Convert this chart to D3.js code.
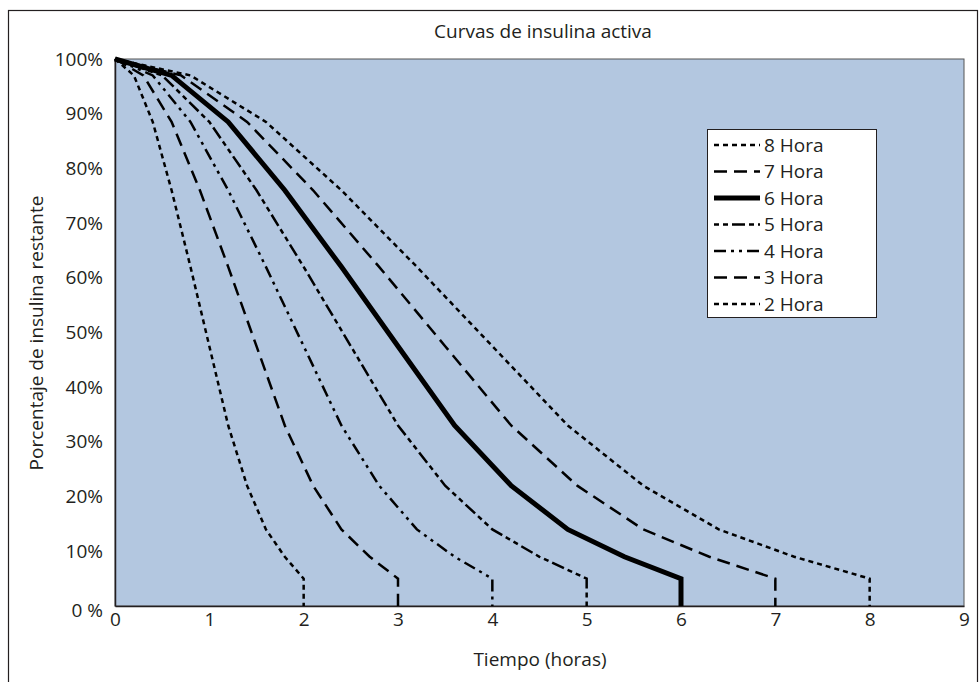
<!DOCTYPE html>
<html>
<head>
<meta charset="utf-8">
<script src="https://cdn.jsdelivr.net/npm/d3@7/dist/d3.min.js"></script>
<style>
  html, body { margin: 0; padding: 0; background: #fff; }
  svg { display: block; }
  text { font-family: "Open Sans", "Noto Sans", sans-serif; fill: #231f20; }
</style>
</head>
<body>
<svg id="chart" width="979" height="682"></svg>
<script>
// ---- Data ----
const title = "Curvas de insulina activa";
const xLabel = "Tiempo (horas)";
const yLabel = "Porcentaje de insulina restante";
const xTicks = [0, 1, 2, 3, 4, 5, 6, 7, 8, 9];
const yTicks = [0, 10, 20, 30, 40, 50, 60, 70, 80, 90, 100];
const yTickLabels = ["0 %", "10%", "20%", "30%", "40%", "50%", "60%", "70%", "80%", "90%", "100%"];

// percent of insulin remaining at each curve vertex (same vertex order for every curve)
const pct = [100, 97, 88.5, 76, 62, 47.5, 33, 22, 14, 9, 5, 0];

const time2 = [0, 0.2, 0.4, 0.6, 0.8, 1.0, 1.2, 1.4, 1.6, 1.8, 2.0, 2.0];
const time3 = [0, 0.3, 0.6, 0.9, 1.2, 1.5, 1.8, 2.1, 2.4, 2.7, 3.0, 3.0];
const time4 = [0, 0.4, 0.8, 1.2, 1.6, 2.0, 2.4, 2.8, 3.2, 3.6, 4.0, 4.0];
const time5 = [0, 0.5, 1.0, 1.5, 2.0, 2.5, 3.0, 3.5, 4.0, 4.5, 5.0, 5.0];
const time6 = [0, 0.6, 1.2, 1.8, 2.4, 3.0, 3.6, 4.2, 4.8, 5.4, 6.0, 6.0];
const time7 = [0, 0.7, 1.4, 2.1, 2.8, 3.5, 4.2, 4.9, 5.6, 6.3, 7.0, 7.0];
const time8 = [0, 0.8, 1.6, 2.4, 3.2, 4.0, 4.8, 5.6, 6.4, 7.2, 8.0, 8.0];

const seriesNames = ["8 Hora", "7 Hora", "6 Hora", "5 Hora", "4 Hora", "3 Hora", "2 Hora"];
const seriesTimes = [time8, time7, time6, time5, time4, time3, time2];

// styles (not data)
const styles = {
  "8 Hora": { w: 2.5, dash: "5,4" },
  "7 Hora": { w: 2.5, dash: "13,7" },
  "6 Hora": { w: 5, dash: null },
  "5 Hora": { w: 2.5, dash: "5,4,5,4,13,4" },
  "4 Hora": { w: 2.5, dash: "12,5,3,5,3,5" },
  "3 Hora": { w: 2.5, dash: "13,7" },
  "2 Hora": { w: 2.5, dash: "5,4" }
};
const FS = "19px";

const svg = d3.select("#chart");

// outer frame
svg.append("rect")
  .attr("x", 8.5).attr("y", 10.5).attr("width", 969).attr("height", 700)
  .attr("fill", "none").attr("stroke", "#231f20").attr("stroke-width", 1.2);

const x = d3.scaleLinear().domain([0, 9]).range([115, 964]);
const y = d3.scaleLinear().domain([0, 100]).range([606, 59]);

// plot background
svg.append("rect")
  .attr("x", x(0)).attr("y", y(100))
  .attr("width", x(9) - x(0)).attr("height", y(0) - y(100))
  .attr("fill", "#b3c7e0").attr("stroke", "#555").attr("stroke-width", 1);

// axes
const xAxis = svg.append("g").attr("transform", `translate(0,${y(0)})`)
  .call(d3.axisBottom(x).tickValues(xTicks).tickSize(0).tickPadding(6).tickFormat(d3.format("d")));
xAxis.select(".domain").attr("stroke", "#231f20").attr("stroke-width", 1.5);
xAxis.selectAll("text").style("font-size", FS).attr("fill", "#231f20");

const yAxis = svg.append("g").attr("transform", `translate(${x(0)},0)`)
  .call(d3.axisLeft(y).tickValues(yTicks).tickSize(0).tickPadding(12)
    .tickFormat((d, i) => yTickLabels[i]));
yAxis.select(".domain").attr("stroke", "#231f20").attr("stroke-width", 1.5);
yAxis.selectAll("text").style("font-size", FS).attr("fill", "#231f20");
yAxis.selectAll(".tick").filter(d => d === 0).select("text").attr("dy", "0.55em");

// curves
const line = d3.line().x(d => x(d.t)).y(d => y(d.p));
seriesNames.forEach((name, si) => {
  const pts = seriesTimes[si].map((t, i) => ({ t: t, p: pct[i] }));
  const st = styles[name];
  svg.append("path")
    .datum(pts)
    .attr("d", line)
    .attr("fill", "none")
    .attr("stroke", "#000")
    .attr("stroke-width", st.w)
    .attr("stroke-dasharray", st.dash)
    .attr("stroke-linejoin", "miter");
});

// title
svg.append("text").attr("x", 543).attr("y", 38).attr("text-anchor", "middle")
  .style("font-size", FS).text(title);

// axis titles
svg.append("text").attr("x", 540).attr("y", 666).attr("text-anchor", "middle")
  .style("font-size", FS).text(xLabel);
svg.append("text").attr("transform", "translate(43,333) rotate(-90)")
  .attr("text-anchor", "middle").style("font-size", FS).text(yLabel);

// legend
const lg = svg.append("g");
lg.append("rect").attr("x", 707.5).attr("y", 129.5).attr("width", 169).attr("height", 188)
  .attr("fill", "#fff").attr("stroke", "#231f20").attr("stroke-width", 1);
seriesNames.forEach((name, i) => {
  const cy = 145 + i * 26.5;
  const st = styles[name];
  lg.append("line").attr("x1", 714).attr("x2", 760).attr("y1", cy).attr("y2", cy)
    .attr("stroke", "#000").attr("stroke-width", st.w).attr("stroke-dasharray", st.dash);
  lg.append("text").attr("x", 764).attr("y", cy).attr("dy", "0.35em")
    .style("font-size", FS).text(name);
});
</script>
</body>
</html>
